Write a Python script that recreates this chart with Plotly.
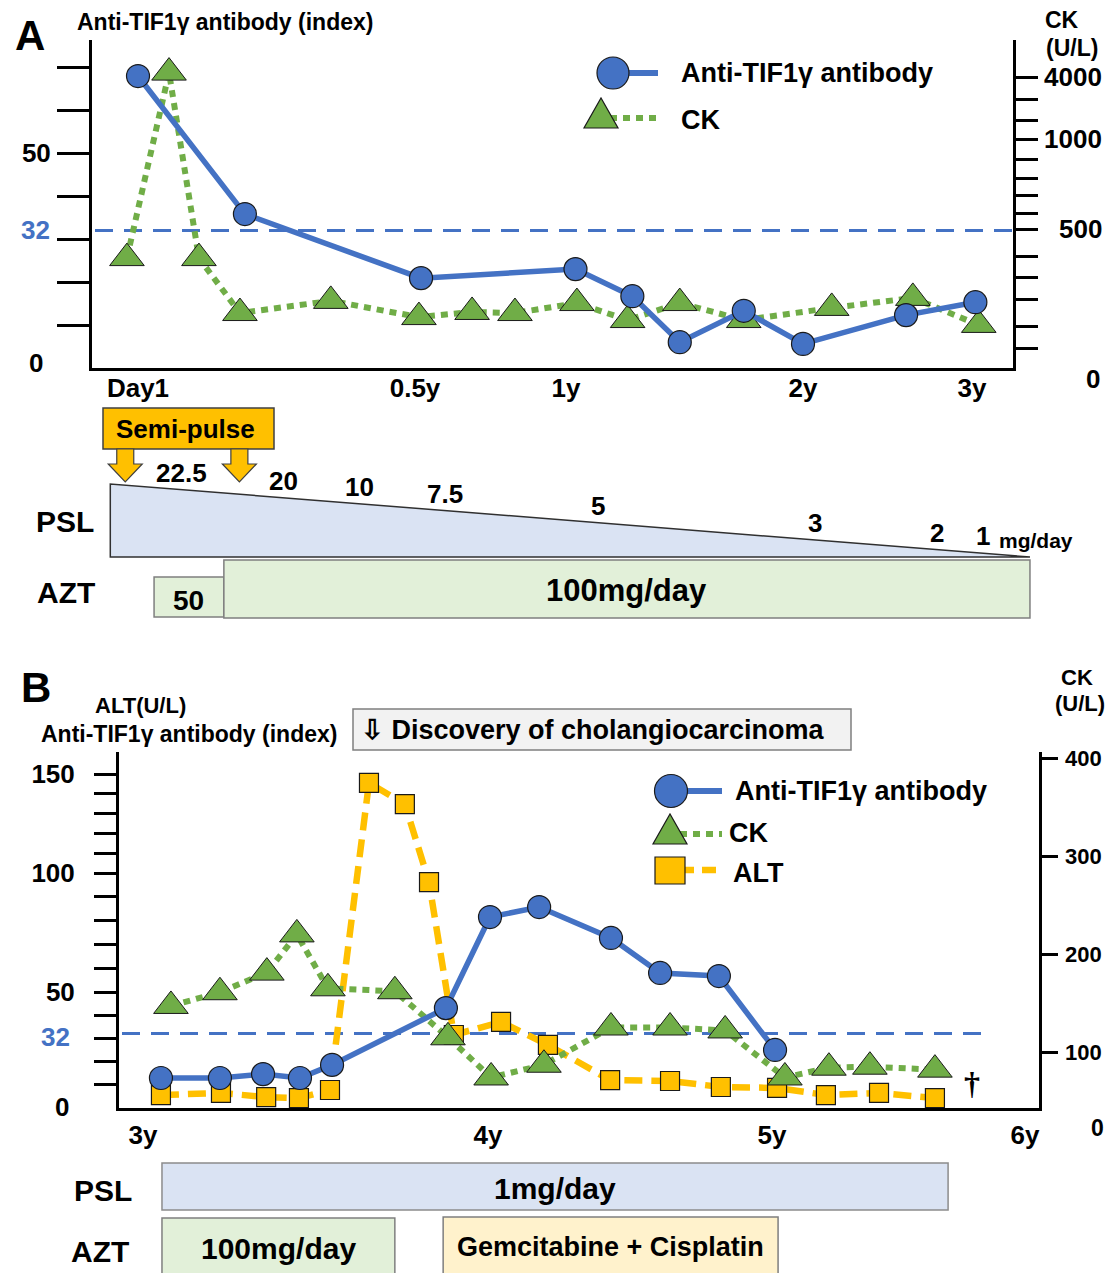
import numpy as np
import plotly.graph_objects as go

W, H = 1112, 1273
FONT = "Liberation Sans, Arial, Helvetica, sans-serif"
BLUE = "#4472C4"
GREEN = "#70AD47"
ORANGE = "#FFC000"
OUT = "#1a1a1a"

# ---------------- Panel A data (years after day 1) ----------------
a_ab_t = [0.0, 0.193, 0.52, 1.04, 1.28, 1.48, 1.75, 2.0, 2.61, 3.02]
a_ab_val = [67.9, 35.8, 20.9, 23.0, 16.7, 6.0, 13.3, 5.6, 12.3, 15.3]
a_ck_t = [-0.02, 0.056, 0.11, 0.184, 0.348, 0.513, 0.689, 0.831, 1.046, 1.26,
          1.48, 1.75, 2.17, 2.65, 3.04]
a_ck_val = [390, 4200, 390, 148, 193, 133, 152, 148, 185, 122, 185, 122, 167, 205, 104]
a_xtick_t = [0, 0.5, 1, 2, 3]
a_xtick_text = ["Day1", "0.5y", "1y", "2y", "3y"]
a_ab_ticks = [10, 20, 30, 40, 50, 60, 70]
a_ab_ticklabels = {50: "50"}
a_ck_ticks = [50, 100, 200, 300, 400, 500, 600, 700, 800, 900, 1000, 2000, 3000, 4000]
a_ck_ticklabels = [4000, 1000, 500]
cutoff = 32

# treatment schedule, panel A
semi_pulse_t = [-0.023, 0.183]
psl_a_t = [-0.05, 3.343]
psl_a_dose_t = [0.078, 0.262, 0.40, 0.60, 1.135, 2.07, 2.79, 3.065]
psl_a_dose = ["22.5", "20", "10", "7.5", "5", "3", "2", "1"]
azt_a_t = [0.029, 0.155, 3.343]
azt_a_dose = ["50", "100mg/day"]

# ---------------- Panel B data ----------------
b_ab_t = [3.052, 3.223, 3.348, 3.455, 3.548, 3.878, 4.007, 4.18, 4.433, 4.606, 4.813, 5.012]
b_ab_val = [12.6, 12.6, 14.3, 12.6, 18.3, 43.0, 81.5, 85.7, 72.7, 58.0, 56.7, 24.8]
b_ck_t = [3.081, 3.223, 3.359, 3.446, 3.536, 3.730, 3.884, 4.011, 4.197, 4.433,
          4.641, 4.835, 5.051, 5.225, 5.387, 5.644]
b_ck_val = [147, 161, 181, 220, 165, 162, 115, 74, 87, 125, 125, 122, 74, 84, 85, 82]
b_alt_t = [3.052, 3.226, 3.357, 3.452, 3.542, 3.655, 3.759, 3.829, 3.901, 4.046,
           4.211, 4.430, 4.641, 4.820, 5.020, 5.213, 5.423, 5.644]
b_alt_val = [5.2, 6.1, 4.3, 3.9, 7.4, 145.5, 134.8, 96.2, 31.3, 37.0, 27.0, 11.7,
             11.3, 8.7, 8.3, 5.2, 6.1, 3.9]
b_xtick_t = [3, 4, 5, 6]
b_xtick_text = ["3y", "4y", "5y", "6y"]
b_left_ticks = [10, 20, 30, 40, 50, 60, 70, 80, 90, 100, 110, 120, 130, 140, 150]
b_left_labels = {50: "50", 100: "100", 150: "150"}
b_ck_ticks = [100, 200, 300, 400]
death_t = 5.79
psl_b_t = [3.055, 5.696]
azt_b_t = [3.055, 3.73]
chemo_t = [3.87, 5.024]

# ---------------- hand-drawn (piecewise) axis geometry ----------------
A_T_KNOTS, A_T_POS = [0, 0.5, 1, 2, 3], [138, 415, 566, 803, 972]
A_CK_KNOTS = [0, 50, 100, 200, 300, 400, 500, 600, 700, 800, 900, 1000, 2000, 3000, 4000, 5000]
A_CK_POS = [368, 348, 326, 299, 277, 256, 229, 213, 195, 178, 159, 139, 120, 99, 77, 55]
A_BOT, A_TOP = 368, 40
A_PXU = 4.3
B_T_KNOTS, B_T_POS = [3, 4, 5, 6], [143, 488, 772, 1025]
B_AB_KNOTS, B_AB_POS = [0, 50, 100, 150], [1107, 992, 873, 774]
B_BOT, B_TOP = 1108, 752
B_CK_REF, B_CK_REFPOS, B_CK_PXU = 100, 1052, 0.98


def pwl(v, xi, yo):
    v = np.atleast_1d(np.asarray(v, float))
    xi = np.asarray(xi, float)
    yo = np.asarray(yo, float)
    out = np.interp(v, xi, yo)
    lo, hi = v < xi[0], v > xi[-1]
    out[lo] = yo[0] + (v[lo] - xi[0]) * (yo[1] - yo[0]) / (xi[1] - xi[0])
    out[hi] = yo[-1] + (v[hi] - xi[-1]) * (yo[-1] - yo[-2]) / (xi[-1] - xi[-2])
    return out


def fxa(t):
    return pwl(t, A_T_KNOTS, A_T_POS)


def fxb(t):
    return pwl(t, B_T_KNOTS, B_T_POS)


def cka(v):
    return A_BOT - pwl(v, A_CK_KNOTS, A_CK_POS)


def abb(v):
    return B_BOT - pwl(v, B_AB_KNOTS, B_AB_POS)


def PX(x):
    return x / W


def PY(y):
    return 1 - y / H


fig = go.Figure()

# ---------------- Panel A traces ----------------
fig.add_trace(go.Scatter(
    x=fxa(a_ck_t), y=cka(a_ck_val), xaxis="x", yaxis="y", mode="lines+markers",
    line=dict(color=GREEN, width=6, dash="7px,6px"),
    marker=dict(symbol="triangle-up", size=30, color=GREEN, line=dict(color=OUT, width=1)),
    showlegend=False, cliponaxis=False))
fig.add_trace(go.Scatter(
    x=fxa(a_ab_t), y=a_ab_val, xaxis="x", yaxis="y2", mode="lines+markers",
    line=dict(color=BLUE, width=5.5),
    marker=dict(symbol="circle", size=23, color=BLUE, line=dict(color=OUT, width=1.2)),
    showlegend=False, cliponaxis=False))

# ---------------- Panel B traces ----------------
fig.add_trace(go.Scatter(
    x=fxb(b_alt_t), y=abb(b_alt_val), xaxis="x2", yaxis="y3", mode="lines+markers",
    line=dict(color=ORANGE, width=6.5, dash="18px,9px"),
    marker=dict(symbol="square", size=19, color=ORANGE, line=dict(color=OUT, width=1.2)),
    showlegend=False, cliponaxis=False))
fig.add_trace(go.Scatter(
    x=fxb(b_ck_t), y=b_ck_val, xaxis="x2", yaxis="y4", mode="lines+markers",
    line=dict(color=GREEN, width=6, dash="7px,6px"),
    marker=dict(symbol="triangle-up", size=30, color=GREEN, line=dict(color=OUT, width=1)),
    showlegend=False, cliponaxis=False))
fig.add_trace(go.Scatter(
    x=fxb(b_ab_t), y=abb(b_ab_val), xaxis="x2", yaxis="y5", mode="lines+markers",
    line=dict(color=BLUE, width=5.5),
    marker=dict(symbol="circle", size=23, color=BLUE, line=dict(color=OUT, width=1.2)),
    showlegend=False, cliponaxis=False))

tickfont = dict(family=FONT, size=26, color="black", weight="bold")
base_ax = dict(showgrid=False, zeroline=False, showline=True, linecolor="black", linewidth=3,
               tickcolor="black", tickwidth=2.5, tickfont=tickfont, automargin=False)

a_ck_rng = [0, A_BOT - A_TOP]
fig.update_layout(
    xaxis=dict(base_ax, domain=[PX(92), PX(1013)], range=[92, 1013], anchor="y", ticks="",
               tickvals=list(fxa(a_xtick_t)), ticktext=a_xtick_text, ticklabelstandoff=-5),
    yaxis=dict(base_ax, domain=[PY(A_BOT), PY(A_TOP)], range=a_ck_rng, side="right", anchor="x",
               ticks="outside", ticklen=22, tickvals=list(cka(a_ck_ticks)),
               ticktext=[""] * len(a_ck_ticks)),
    yaxis2=dict(base_ax, overlaying="y", side="left", anchor="x",
                range=[0, (A_BOT - A_TOP) / A_PXU], ticks="outside", ticklen=32,
                tickvals=a_ab_ticks, ticktext=[a_ab_ticklabels.get(v, "") for v in a_ab_ticks],
                ticklabelstandoff=1),
    xaxis2=dict(base_ax, domain=[PX(119), PX(1039)], range=[119, 1039], anchor="y3", ticks="",
                tickvals=list(fxb(b_xtick_t)), ticktext=b_xtick_text, ticklabelstandoff=2),
    yaxis3=dict(base_ax, domain=[PY(B_BOT), PY(B_TOP)], range=[0, B_BOT - B_TOP], anchor="x2",
                side="left", ticks="outside", ticklen=22, tickvals=list(abb(b_left_ticks)),
                ticktext=[b_left_labels.get(v, "") for v in b_left_ticks], ticklabelstandoff=14),
    yaxis4=dict(base_ax, overlaying="y3", side="right", anchor="x2",
                range=[B_CK_REF - (B_BOT - B_CK_REFPOS) / B_CK_PXU,
                       B_CK_REF + (B_CK_REFPOS - B_TOP) / B_CK_PXU],
                ticks="outside", ticklen=16, tickvals=b_ck_ticks,
                ticktext=[""] * len(b_ck_ticks)),
    yaxis5=dict(overlaying="y3", range=[0, B_BOT - B_TOP], visible=False, anchor="x2",
                automargin=False),
)

shapes = []
anns = []


def ann(x, y, text, size=26, xanchor="center", yanchor="middle", color="black",
        family=FONT, xref="paper", yref="paper", bold=True):
    anns.append(dict(x=PX(x) if xref == "paper" else x, y=PY(y) if yref == "paper" else y,
                     xref=xref, yref=yref, text=text, showarrow=False,
                     xanchor=xanchor, yanchor=yanchor,
                     font=dict(family=family, size=size, color=color,
                               weight="bold" if bold else "normal")))


def rect(x0, y0, x1, y1, fill, line="#7f7f7f", lw=1.5):
    shapes.append(dict(type="rect", xref="paper", yref="paper", x0=PX(x0), x1=PX(x1),
                       y0=PY(y1), y1=PY(y0), fillcolor=fill, line=dict(color=line, width=lw)))


def poly(pts, fill, line=OUT, lw=1.2):
    path = "M " + " L ".join(f"{PX(x):.5f},{PY(y):.5f}" for x, y in pts) + " Z"
    shapes.append(dict(type="path", xref="paper", yref="paper", path=path, fillcolor=fill,
                       line=dict(color=line, width=lw)))


def seg(x0, y0, x1, y1, color, width, dash="solid"):
    shapes.append(dict(type="line", xref="paper", yref="paper", x0=PX(x0), x1=PX(x1),
                       y0=PY(y0), y1=PY(y1), line=dict(color=color, width=width, dash=dash)))


def circ(cx, cy, d, fill):
    shapes.append(dict(type="circle", xref="paper", yref="paper", x0=PX(cx - d / 2),
                       x1=PX(cx + d / 2), y0=PY(cy + d / 2), y1=PY(cy - d / 2),
                       fillcolor=fill, line=dict(color=OUT, width=1.2)))


def tri(cx, cy, w, h, fill):
    poly([(cx - w / 2, cy + h / 2), (cx + w / 2, cy + h / 2), (cx, cy - h / 2)], fill)


# cutoff lines
shapes.append(dict(type="line", xref="x", yref="y2", x0=95, x1=1013, y0=cutoff, y1=cutoff,
                   layer="below", line=dict(color=BLUE, width=3, dash="18px,11px")))
shapes.append(dict(type="line", xref="x2", yref="y3", x0=122, x1=983, y0=abb(cutoff)[0],
                   y1=abb(cutoff)[0], layer="below",
                   line=dict(color=BLUE, width=3, dash="18px,11px")))

# ---------------- Panel A annotations ----------------
ann(30, 35, "A", size=42)
ann(75, 22, "Anti-TIF1γ antibody (index)", size=23, xanchor="left")
ann(1062, 20, "CK", size=23)
ann(1072, 48, "(U/L)", size=23)
ann(36, 363, "0")
ann(35, cutoff, str(cutoff), color=BLUE, yref="y2")
anns[-1]["x"] = PX(35)
for v in a_ck_ticklabels:
    anns.append(dict(x=PX(1104), y=cka(v)[0], xref="paper", yref="y", text=str(v),
                     showarrow=False, xanchor="right", yanchor="middle",
                     font=dict(family=FONT, size=26, color="black", weight="bold")))
ann(1093, 379, "0")

# legend A
seg(613, 73, 658, 73, BLUE, 6)
circ(613, 73, 32, BLUE)
seg(610, 118, 660, 118, GREEN, 6, "7px,6px")
tri(601, 113, 34, 30, GREEN)
ann(679, 73, "Anti-TIF1γ antibody", size=27, xanchor="left")
ann(679, 120, "CK", size=27, xanchor="left")

# Semi-pulse box and arrows
rect(103, 408, 274, 449, ORANGE, line="#404040")
ann(186, 429, "Semi-pulse", size=26)
for cx in fxa(semi_pulse_t):
    sw, hw = 17, 34
    poly([(cx - sw / 2, 449), (cx + sw / 2, 449), (cx + sw / 2, 464), (cx + hw / 2, 464),
          (cx, 482), (cx - hw / 2, 464), (cx - sw / 2, 464)], ORANGE, line="#404040")

# PSL triangle
x0p, x1p = fxa(psl_a_t)
ytop, ybot = 484, 557
poly([(x0p, ytop), (x0p, ybot), (x1p, ybot)], "#DAE3F3", line="#303030", lw=1.5)
ann(65, 521, "PSL", size=30)
for t, d in zip(psl_a_dose_t, psl_a_dose):
    xx = fxa(t)[0]
    ye = ytop + (xx - x0p) * (ybot - ytop) / (x1p - x0p)
    ann(xx, ye - 17, d, size=26)
ann(997, 540, "mg/day", size=21, xanchor="left")

# AZT bars
xa0, xa1, xa2 = fxa(azt_a_t)
rect(xa0, 577, xa1, 617, "#E2F0D9")
rect(xa1, 560, xa2, 618, "#E2F0D9")
ann(66, 592, "AZT", size=30)
ann((xa0 + xa1) / 2, 600, azt_a_dose[0], size=28)
ann((xa1 + xa2) / 2, 590, azt_a_dose[1], size=31)

# ---------------- Panel B annotations ----------------
ann(36, 687, "B", size=42)
ann(140, 705, "ALT(U/L)", size=22)
ann(189, 734, "Anti-TIF1γ antibody (index)", size=23)
rect(353, 709, 851, 750, "#F2F2F2")
ann(359, 730, "⇩ Discovery of cholangiocarcinoma", size=27, xanchor="left")
ann(1077, 677, "CK", size=22)
ann(1080, 704, "(U/L)", size=22)
ann(55, 1037, str(cutoff), color=BLUE)
ann(62, 1107, "0")
ann(1097, 1128, "0", size=23)
for v in b_ck_ticks:
    anns.append(dict(x=PX(1104), y=v, xref="paper", yref="y4", text=str(v),
                     showarrow=False, xanchor="right", yanchor="middle",
                     font=dict(family=FONT, size=22, color="black", weight="bold")))
ann(fxb(death_t)[0], 1083, "†", size=32, family="Liberation Serif, serif")

# legend B
seg(671, 791, 722, 791, BLUE, 6)
circ(671, 791, 33, BLUE)
seg(680, 834, 722, 834, GREEN, 6, "7px,6px")
tri(670, 829, 34, 30, GREEN)
seg(680, 870, 722, 870, ORANGE, 6.5, "14px,8px")
rect(655, 857, 685, 884, ORANGE, line=OUT, lw=1.2)
ann(733, 791, "Anti-TIF1γ antibody", size=27, xanchor="left")
ann(727, 833, "CK", size=27, xanchor="left")
ann(731, 873, "ALT", size=27, xanchor="left")

# treatment bars B
p0, p1 = fxb(psl_b_t)
rect(p0, 1163, p1, 1210, "#DAE3F3", line="#8c8c8c")
ann(103, 1190, "PSL", size=30)
ann((p0 + p1) / 2, 1188, "1mg/day", size=30)
z0, z1 = fxb(azt_b_t)
rect(z0, 1218, z1, 1285, "#E2F0D9")
ann(100, 1251, "AZT", size=30)
ann((z0 + z1) / 2, 1248, "100mg/day", size=30)
c0, c1 = fxb(chemo_t)
rect(c0, 1217, c1, 1285, "#FFF2CC")
ann((c0 + c1) / 2, 1247, "Gemcitabine + Cisplatin", size=27)

fig.update_layout(
    width=W, height=H, margin=dict(l=0, r=0, t=0, b=0, pad=0, autoexpand=False),
    paper_bgcolor="white", plot_bgcolor="rgba(0,0,0,0)",
    font=dict(family=FONT, color="black"),
    shapes=shapes, annotations=anns, showlegend=False,
)

fig.write_html("out.html", config={"displayModeBar": False},
               post_script="document.body.style.margin='0';document.body.style.overflow='hidden';")
